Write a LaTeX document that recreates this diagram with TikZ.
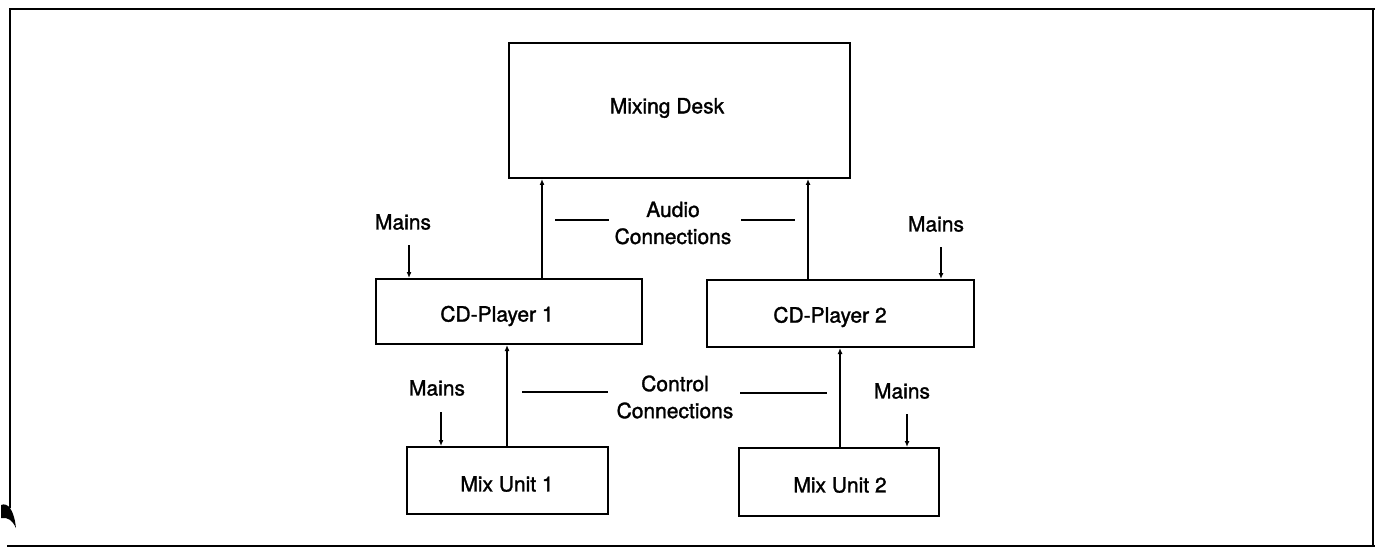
\documentclass[tikz,border=0pt]{standalone}
\usepackage{fontspec}
\setmainfont{TeX Gyre Heros}
\newfontfamily\lblfont[FakeBold=1.4]{TeX Gyre Heros}
\usetikzlibrary{arrows.meta}
\begin{document}
\begin{tikzpicture}[x=1pt,y=-1pt,
  box/.style={draw,line width=2pt,inner sep=0pt},
  lbl/.style={inner sep=0pt,font=\lblfont\fontsize{21}{27}\selectfont,align=center},
  conn/.style={line width=1.7pt,-{Latex[length=6pt,width=5pt]}},
  dashln/.style={line width=1.5pt},
  frame/.style={line width=2.4pt}]
\useasboundingbox (0,0) rectangle (1375,548);
% frame
\draw[frame] (10,508) -- (10,9) -- (1375,9);
\draw[frame] (1373,9) -- (1373,546);
\draw[frame] (7,546) -- (1375,546);
\fill (1,505) .. controls (8,502) and (14,510) .. (16,528)
      .. controls (12,520) and (8,517) .. (1,518) -- cycle;
% boxes
\node[box,minimum width=341pt,minimum height=135pt] (desk) at (679.5,110.5) {};
\node[lbl] (deskt) at (667,108) {Mixing Desk};
\node[box,minimum width=266pt,minimum height=65pt] (cd1) at (509,311.5) {};
\node[lbl] (cd1t) at (497,316) {CD-Player 1};
\node[box,minimum width=267pt,minimum height=67pt] (cd2) at (840.5,313.5) {};
\node[lbl] (cd2t) at (830,317) {CD-Player 2};
\node[box,minimum width=201pt,minimum height=67pt] (mu1) at (507.5,480.5) {};
\node[lbl] (mu1t) at (507,484) {Mix Unit 1};
\node[box,minimum width=200pt,minimum height=68pt] (mu2) at (839,482) {};
\node[lbl] (mu2t) at (840,485) {Mix Unit 2};
% labels
\node[lbl] (mainsA) at (403,222) {Mains};
\node[lbl] (mainsB) at (936,224) {Mains};
\node[lbl] (mainsC) at (437,388) {Mains};
\node[lbl] (mainsD) at (902,391) {Mains};
\node[lbl] (audio) at (673,223) {Audio\\Connections};
\node[lbl] (control) at (675,397) {Control\\Connections};
% x positions
\coordinate (xa1) at (542,0);
\coordinate (xa2) at (808,0);
\coordinate (xc1) at (507,0);
\coordinate (xc2) at (840,0);
\coordinate (xm1) at (409,245);
\coordinate (xm2) at (941,247);
\coordinate (xm3) at (441,412);
\coordinate (xm4) at (907,414);
% audio connections
\draw[conn] (cd1.north -| xa1) -- (desk.south -| xa1);
\draw[conn] (cd2.north -| xa2) -- (desk.south -| xa2);
% control connections
\draw[conn] (mu1.north -| xc1) -- (cd1.south -| xc1);
\draw[conn] (mu2.north -| xc2) -- (cd2.south -| xc2);
% mains
\draw[conn] (xm1) -- (cd1.north -| xm1);
\draw[conn] (xm2) -- (cd2.north -| xm2);
\draw[conn] (xm3) -- (mu1.north -| xm3);
\draw[conn] (xm4) -- (mu2.north -| xm4);
% dashes beside labels
\coordinate (al1) at (555,220); \coordinate (al2) at (609,220);
\coordinate (ar1) at (741,220); \coordinate (ar2) at (795,220);
\coordinate (cl1) at (522,392); \coordinate (cl2) at (608,392);
\coordinate (cr1) at (740,393); \coordinate (cr2) at (827,393);
\draw[dashln] (al1) -- (al2);
\draw[dashln] (ar1) -- (ar2);
\draw[dashln] (cl1) -- (cl2);
\draw[dashln] (cr1) -- (cr2);
\end{tikzpicture}
\end{document}
